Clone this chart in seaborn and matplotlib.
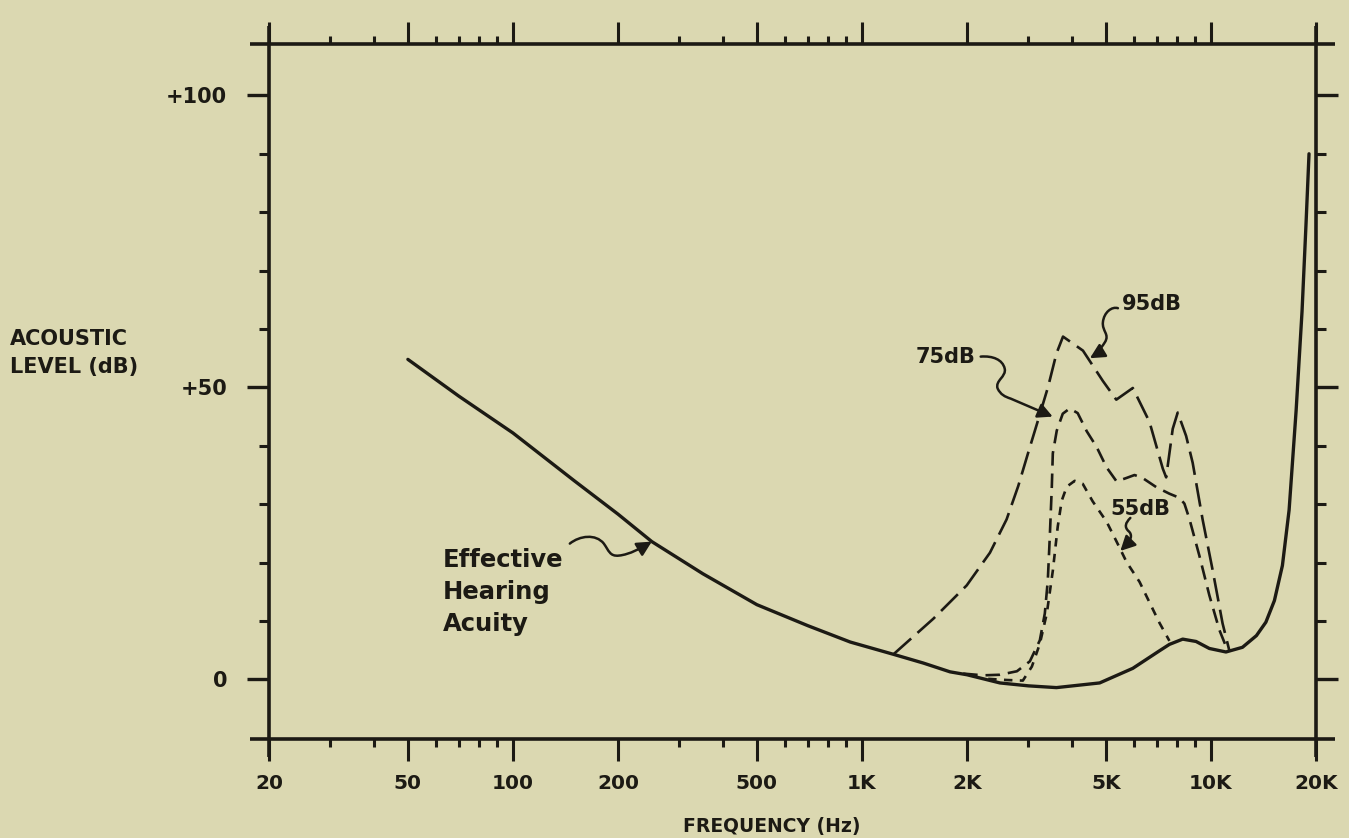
import numpy as np
import pandas as pd
import matplotlib
matplotlib.use("Agg")
import matplotlib.pyplot as plt
import seaborn as sns
from matplotlib.path import Path
from matplotlib.patches import FancyArrowPatch
from matplotlib.transforms import IdentityTransform
from matplotlib.ticker import NullFormatter

# ---------------- data ----------------
hearing_freq = [50, 70, 100, 150, 200, 250, 350, 500, 700, 926, 1231, 1500, 1788, 2000,
                2485, 3000, 3608, 4799, 5972, 7119, 7604, 8300, 9064, 9896, 11042,
                12312, 13500, 14368, 15200, 16024, 16748, 17540, 18239, 18726, 19100]
hearing_db = [54.8, 48.5, 42.2, 34.0, 28.3, 23.6, 18.1, 12.8, 9.2, 6.4, 4.3, 2.8, 1.3, 0.8,
              -0.6, -1.1, -1.4, -0.6, 1.9, 4.9, 6.0, 6.9, 6.5, 5.3, 4.7,
              5.5, 7.5, 9.8, 13.5, 19.5, 29.0, 46.0, 63.0, 78.0, 90.0]

freq_95 = [1231, 1602, 1996, 2327, 2597, 2804, 2994, 3197, 3415, 3608, 3768, 4298, 4902,
           5355, 5972, 6666, 7278, 7442, 7771, 8032, 8488, 8864, 9464, 10106, 10797, 11284]
db_95 = [4.3, 10.4, 16.1, 21.7, 27.4, 33.1, 38.8, 44.4, 50.1, 55.8, 58.7, 56.3, 51.1,
         47.9, 49.9, 44.1, 36.1, 34.6, 42.9, 45.7, 41.7, 37.1, 27.4, 18.8, 9.6, 5.0]

freq_75 = [1950, 2222, 2485, 2780, 3028, 3234, 3342, 3408, 3454, 3500, 3523, 3616, 3762,
           3939, 4151, 4406, 4704, 5024, 5366, 5731, 6040, 6367, 6982, 7604, 8122, 8394,
           8674, 9264, 9896, 10568, 11138]
db_75 = [1.0, 0.7, 0.8, 1.4, 3.1, 6.7, 11.3, 16.9, 24.5, 33.0, 38.7, 42.6, 45.5,
         46.4, 45.6, 42.5, 39.8, 36.3, 33.9, 34.5, 35.0, 34.5, 32.9, 31.8, 31.1, 30.1,
         27.5, 21.2, 14.4, 8.5, 5.1]

freq_55 = [2300, 2602, 2891, 3068, 3234, 3386, 3523, 3640, 3736, 3862, 4070, 4291, 4582,
           5024, 5366, 5731, 6244, 6666, 7119, 7604]
db_55 = [0.1, -0.1, -0.2, 2.2, 6.1, 11.3, 18.6, 26.2, 30.6, 33.0, 34.0, 33.5, 30.5,
         27.0, 23.6, 20.1, 16.7, 13.2, 9.7, 6.6]

x_major_ticks = [20, 50, 100, 200, 500, 1000, 2000, 5000, 10000, 20000]
x_major_labels = ["20", "50", "100", "200", "500", "1K", "2K", "5K", "10K", "20K"]
x_minor_ticks = [30, 40, 60, 70, 80, 90, 300, 400, 600, 700, 800, 900,
                 3000, 4000, 6000, 7000, 8000, 9000]
y_major_ticks = [0, 50, 100]
y_major_labels = ["0", "+50", "+100"]
y_minor_ticks = [10, 20, 30, 40, 60, 70, 80, 90]

# ---------------- style ----------------
sns.set_theme(style="white")
plt.rcParams['font.family'] = ['DejaVu Sans']
BG = '#dbd8b1'
INK = '#1c1a14'

W, H = 1349, 838
fig = plt.figure(figsize=(W / 100, H / 100), dpi=100, facecolor=BG)
ax_l, ax_r, ax_t, ax_b = 269, 1316, 44, 739
ax = fig.add_axes([ax_l / W, (H - ax_b) / H, (ax_r - ax_l) / W, (ax_b - ax_t) / H])
ax.set_facecolor(BG)
ax.set_xscale('log')

# ---------------- curves ----------------
def curve(fx, fy, lw, dashes=None):
    sns.lineplot(x=fx, y=fy, ax=ax, color=INK, linewidth=lw, estimator=None, sort=False)
    ln = ax.lines[-1]
    ln.set_solid_capstyle('round')
    ln.set_solid_joinstyle('round')
    if dashes is not None:
        ln.set_dashes(dashes)
        ln.set_dash_capstyle('butt')
        ln.set_dash_joinstyle('round')
    return ln

curve(freq_95, db_95, 1.9, (9.0, 3.2))
curve(freq_75, db_75, 1.9, (5.5, 3.0))
curve(freq_55, db_55, 1.9, (3.2, 2.8))
curve(hearing_freq, hearing_db, 2.4)

ax.set_xlim(20, 20000)
ax.set_ylim(-10.2, 108.8)

# ---------------- axes frame (lines crossing at the corners) ----------------
for s in ax.spines.values():
    s.set_visible(False)
ex = 19 / (ax_r - ax_l)
ey = 18 / (ax_b - ax_t)
frame_kw = dict(transform=ax.transAxes, clip_on=False, color=INK, lw=2.6, solid_capstyle='butt')
ax.plot([-ex, 1 + ex], [0, 0], **frame_kw)
ax.plot([-ex, 1 + ex], [1, 1], **frame_kw)
ax.plot([0, 0], [-ey, 1 + ey], **frame_kw)
ax.plot([1, 1], [-ey, 1 + ey], **frame_kw)

# ---------------- ticks ----------------
ax.set_xticks(x_major_ticks)
ax.set_xticklabels(x_major_labels)
ax.set_xticks(x_minor_ticks, minor=True)
ax.xaxis.set_minor_formatter(NullFormatter())
ax.set_yticks(y_major_ticks)
ax.set_yticklabels(y_major_labels)
ax.set_yticks(y_minor_ticks, minor=True)

ax.tick_params(axis='x', which='major', direction='out', length=16, width=2.2, color=INK,
               bottom=True, top=True, labeltop=False, pad=9, labelsize=14.5, labelcolor=INK)
ax.tick_params(axis='x', which='minor', direction='out', length=6, width=2.2, color=INK,
               bottom=True, top=True)
ax.tick_params(axis='y', which='major', direction='out', length=16, width=2.4, color=INK,
               left=True, right=True, labelright=False, pad=14, labelsize=15, labelcolor=INK)
ax.tick_params(axis='y', which='minor', direction='out', length=7, width=2.2, color=INK,
               left=True, right=True)
for lbl in ax.get_xticklabels() + ax.get_yticklabels():
    lbl.set_fontweight('bold')
ax.grid(False)

# ---------------- axis titles ----------------
fig.text(10 / W, 1 - 339 / H, "ACOUSTIC", ha='left', va='center', fontsize=15,
         fontweight='bold', color=INK)
fig.text(10 / W, 1 - 367 / H, "LEVEL (dB)", ha='left', va='center', fontsize=15,
         fontweight='bold', color=INK)
fig.text(772 / W, 1 - 826 / H, "FREQUENCY (Hz)", ha='center', va='center', fontsize=13.5,
         fontweight='bold', color=INK)

# ---------------- annotations with squiggly arrows ----------------
def squiggle(tip, offsets):
    tx, ty = ax.transData.transform(tip)
    verts = [(tx + dx, ty - dy) for dx, dy in offsets]
    codes = [Path.MOVETO] + [Path.CURVE4] * (len(verts) - 1)
    p = FancyArrowPatch(path=Path(verts, codes),
                        arrowstyle='-|>,head_length=0.55,head_width=0.28',
                        mutation_scale=16, color=INK, lw=1.8,
                        transform=IdentityTransform())
    fig.add_artist(p)

def label(tip, text, off, size=15, ha='center', va='center'):
    ax.annotate(text, xy=tip, xytext=off, textcoords='offset pixels',
                ha=ha, va=va, fontsize=size, fontweight='bold', color=INK)

# Effective Hearing Acuity
tip_eff = (250, 23.6)
squiggle(tip_eff, [(-82, 2), (-72, -6), (-56, -8), (-48, 2), (-43, 9), (-42, 15), (-33, 14),
                   (-22, 13), (-10, 6), (0, 0)])
for i, t in enumerate(["Effective", "Hearing", "Acuity"]):
    label(tip_eff, t, (-209, -25 - 32 * i), size=17.5, ha='left', va='baseline')

# 95dB
tip_95 = (4500, 55.0)
squiggle(tip_95, [(28, -50), (22, -52), (14, -46), (13, -36), (12, -27), (20, -24), (15, -16),
                  (10, -8), (5, -3), (0, 0)])
label(tip_95, "95dB", (62, 54))

# 75dB
tip_75 = (3520, 45.0)
squiggle(tip_75, [(-72, -60), (-60, -61), (-50, -57), (-48, -48), (-46, -40), (-58, -36),
                  (-55, -28), (-52, -22), (-48, -20), (-42, -18), (-28, -12), (-14, -6), (0, 0)])
label(tip_75, "75dB", (-107, 60))

# 55dB
tip_55 = (5500, 22.0)
squiggle(tip_55, [(10, -33), (5, -28), (4, -24), (8, -20), (13, -16), (10, -10), (6, -6),
                  (4, -4), (2, -2), (0, 0)])
label(tip_55, "55dB", (20, 42))

fig.savefig("out.png", dpi=100, facecolor=BG)
